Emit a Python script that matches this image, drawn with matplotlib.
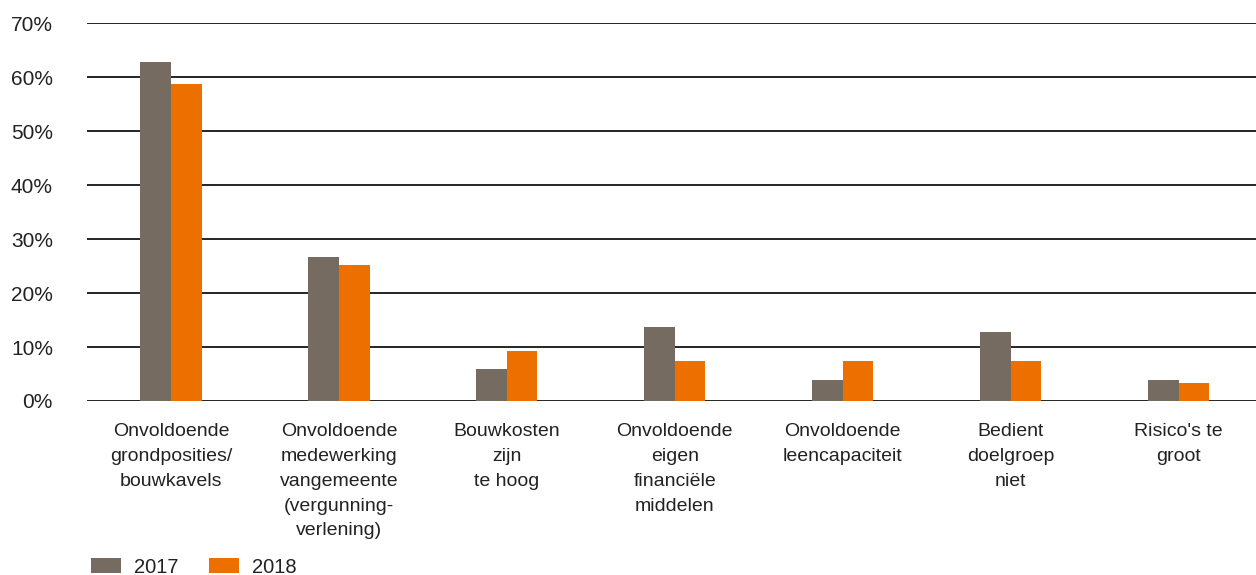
import matplotlib
matplotlib.use('Agg')
import matplotlib.pyplot as plt
import numpy as np

plt.rcParams['font.family'] = ['Liberation Sans', 'DejaVu Sans']

categories = ['Onvoldoende\ngrondposities/\nbouwkavels',
              'Onvoldoende\nmedewerking\nvangemeente\n(vergunning-\nverlening)',
              'Bouwkosten\nzijn\nte hoog',
              'Onvoldoende\neigen\nfinanciële\nmiddelen',
              'Onvoldoende\nleencapaciteit',
              'Bedient\ndoelgroep\nniet',
              "Risico's te\ngroot"]
v2017 = [62.9, 26.7, 5.9, 13.7, 3.9, 12.8, 3.9]
v2018 = [58.8, 25.2, 9.3, 7.4, 7.4, 7.4, 3.3]
yticks = [0, 10, 20, 30, 40, 50, 60, 70]

grey = '#756b61'
orange = '#ec6f00'
txt = '#222222'

fig = plt.figure(figsize=(12.56, 5.75), dpi=100)
ax = fig.add_axes([87 / 1256, 1 - 401 / 575, 1 - 87 / 1256, (401 - 23.3) / 575])

x = np.arange(len(categories))
w = 0.182
ax.bar(x - w / 2, v2017, w, color=grey, label='2017', zorder=3)
ax.bar(x + w / 2, v2018, w, color=orange, label='2018', zorder=3)

ax.set_xlim(-0.5, 6.46)
ax.set_ylim(0, 70)
ax.set_yticks(yticks)
ax.set_yticklabels([f'{t}%' for t in yticks], fontsize=15, color=txt)
for t in yticks:
    ax.axhline(t, color='black', lw=1.2, zorder=2)
ax.set_xticks(x)
ax.set_xticklabels(categories, fontsize=14, color=txt, va='top')
for lab in ax.get_xticklabels():
    lab.set_linespacing(1.6)
ax.tick_params(axis='both', length=0)
ax.tick_params(axis='y', pad=24.5)
ax.tick_params(axis='x', pad=16)
for s in ax.spines.values():
    s.set_visible(False)

fig.legend(loc='lower left', bbox_to_anchor=(91 / 1256, -0.003), ncol=2, frameon=False,
           fontsize=14.5, handlelength=1.5, handleheight=0.8, handletextpad=0.65,
           columnspacing=1.5, borderpad=0, borderaxespad=0, labelcolor=txt)

fig.savefig('out.png', dpi=100)
